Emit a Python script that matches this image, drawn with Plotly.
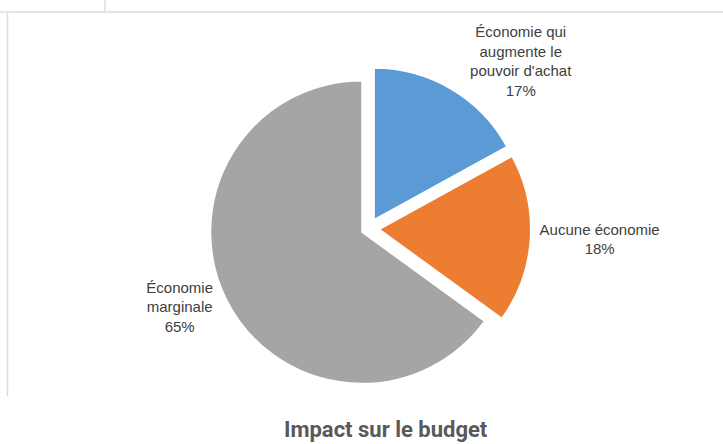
import plotly.graph_objects as go

categories = ["Économie qui<br>augmente le<br>pouvoir d'achat", "Aucune économie", "Économie<br>marginale"]
values = [17, 18, 65]
colors = ["#5B9BD5", "#ED7D31", "#A5A5A5"]
title_text = "Impact sur le budget"

fig = go.Figure()
fig.add_trace(go.Pie(
    labels=categories,
    values=values,
    sort=False,
    direction="clockwise",
    rotation=0,
    pull=[0.07, 0.07, 0.05],
    marker=dict(colors=colors, line=dict(color="white", width=1.5)),
    textinfo="label+percent",
    textposition="outside",
    textfont=dict(family="Liberation Sans, Arial, sans-serif", size=15, color="#404040"),
    showlegend=False,
    hoverinfo="label+percent",
    domain=dict(x=[0.08, 0.94], y=[0.12, 0.85]),
    automargin=False,
))

shapes = [
    dict(type="line", xref="paper", yref="paper", x0=0, x1=1, y0=1 - 12 / 444, y1=1 - 12 / 444,
         line=dict(color="#dcdcdc", width=1.5)),
    dict(type="line", xref="paper", yref="paper", x0=105 / 723, x1=105 / 723, y0=1 - 12 / 444, y1=1,
         line=dict(color="#dcdcdc", width=1.5)),
    dict(type="line", xref="paper", yref="paper", x0=7.5 / 723, x1=7.5 / 723, y0=1 - 396 / 444, y1=1 - 13 / 444,
         line=dict(color="#dcdcdc", width=1.5)),
]

fig.update_layout(
    width=723,
    height=444,
    margin=dict(l=0, r=0, t=0, b=0),
    paper_bgcolor="white",
    plot_bgcolor="white",
    shapes=shapes,
    annotations=[dict(
        text="<b>" + title_text + "</b>",
        xref="paper", yref="paper",
        x=386 / 723, y=1 - 429 / 444,
        xanchor="center", yanchor="middle",
        showarrow=False,
        font=dict(family="Roboto, Liberation Sans, Arial, sans-serif", size=22, color="#595959"),
    )],
)

fig.write_html("out.html")
